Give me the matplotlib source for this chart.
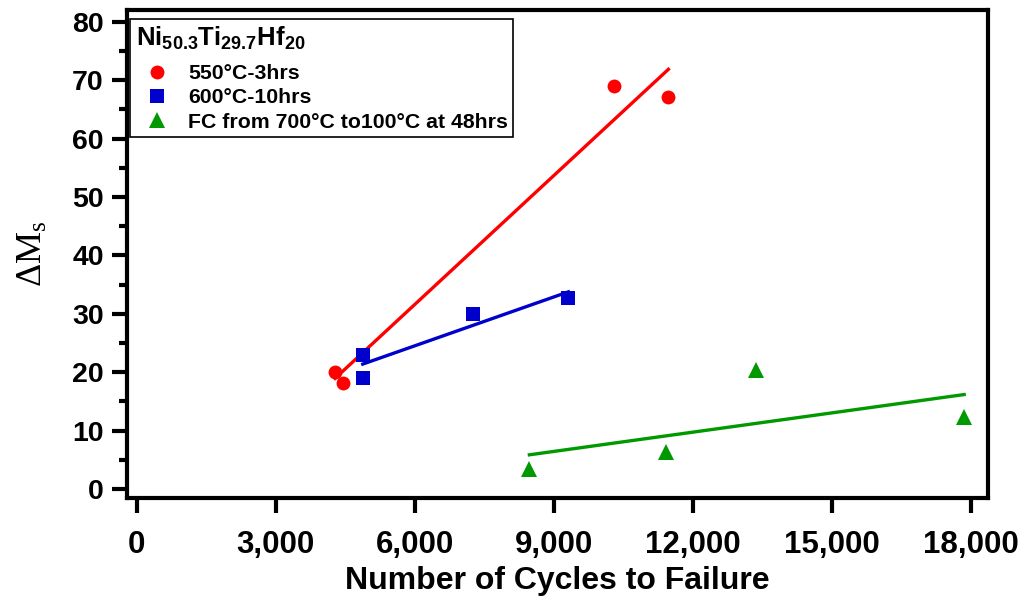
import numpy as np
import matplotlib
matplotlib.use("Agg")
import matplotlib.pyplot as plt
from matplotlib.ticker import FuncFormatter, MultipleLocator

plt.rcParams['font.family'] = ['Liberation Sans', 'DejaVu Sans']
plt.rcParams['mathtext.fontset'] = 'custom'
plt.rcParams['mathtext.rm'] = 'Liberation Serif'
plt.rcParams['mathtext.it'] = 'Liberation Serif:italic'
plt.rcParams['mathtext.bf'] = 'Liberation Sans:bold'

# Data
red_x = [4280, 4446, 10302, 11474]
red_y = [20.0, 18.1, 69.0, 67.1]
blue_x = [4878, 4878, 7265, 9316]
blue_y = [19.0, 22.85, 30.0, 32.7]
green_x = [8474, 11425, 13367, 17857]
green_y = [3.4, 6.3, 20.3, 12.3]

labels = ['550°C-3hrs', '600°C-10hrs', 'FC from 700°C to100°C at 48hrs']
legend_title = r'$\mathbf{Ni_{50.3}Ti_{29.7}Hf_{20}}$'
x_ticks = [0, 3000, 6000, 9000, 12000, 15000, 18000]
y_ticks = [0, 10, 20, 30, 40, 50, 60, 70, 80]

fig = plt.figure(figsize=(10.28, 6.01), dpi=100)
ax = fig.add_axes([0.124, 0.171, 0.837, 0.813])

series = [
    (red_x, red_y, '#FF0000', 'o', 10),
    (blue_x, blue_y, '#0000CC', 's', 9.5),
    (green_x, green_y, '#009900', '^', 11),
]
handles = []
for (xs, ys, c, m, ms), lab in zip(series, labels):
    xs = np.array(xs, float); ys = np.array(ys, float)
    h, = ax.plot(xs, ys, linestyle='none', marker=m, color=c, markersize=ms,
                 markeredgewidth=0, label=lab, zorder=3)
    handles.append(h)
    k, b = np.polyfit(xs, ys, 1)
    xf = np.array([xs.min(), xs.max()])
    ax.plot(xf, k * xf + b, color=c, linewidth=2.4, zorder=2)

ax.set_xlim(-200, 18370)
ax.set_ylim(-1.6, 82.1)
ax.set_xticks(x_ticks)
ax.set_yticks(y_ticks)
ax.yaxis.set_minor_locator(MultipleLocator(5))
ax.xaxis.set_major_formatter(FuncFormatter(lambda v, p: f'{int(v):,}'))

for s in ax.spines.values():
    s.set_linewidth(3)
ax.tick_params(axis='both', which='major', length=11, width=3, direction='out')
ax.tick_params(axis='y', which='minor', length=5.5, width=3, direction='out')
ax.tick_params(axis='x', which='major', labelsize=22.5, pad=12)
ax.tick_params(axis='y', which='major', labelsize=20.5, pad=6)
for t in ax.get_xticklabels() + ax.get_yticklabels():
    t.set_fontweight('bold')

ax.set_xlabel('Number of Cycles to Failure', fontsize=23, fontweight='bold', labelpad=4)
ax.set_ylabel(r'$\mathrm{\Delta M_s}$', fontsize=26, labelpad=16)

leg = ax.legend(handles=handles, labels=labels, title=legend_title,
                loc='upper left', bbox_to_anchor=(0.0035, 0.9806), borderaxespad=0,
                fancybox=False, frameon=True, edgecolor='black', framealpha=1,
                prop={'weight': 'bold', 'size': 15.3}, title_fontsize=18.5,
                borderpad=0.25, handlelength=2.0, handletextpad=0.45, labelspacing=0.25)
leg._legend_box.align = 'left'
leg._legend_box.sep = 9
leg.get_frame().set_linewidth(1.2)

fig.savefig('out.png', dpi=100)
